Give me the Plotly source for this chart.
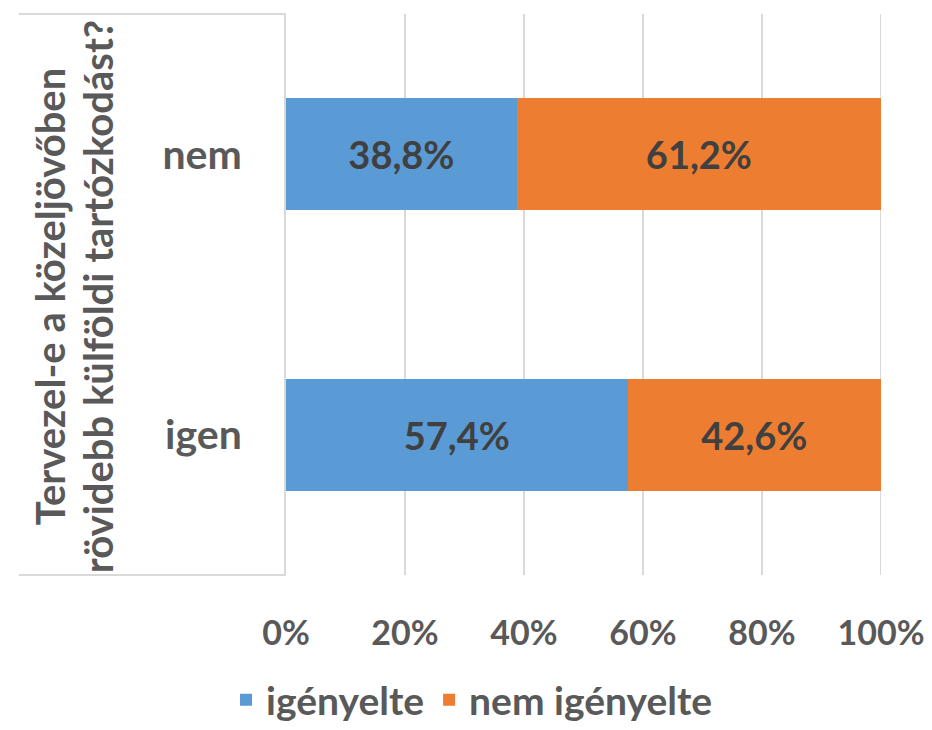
import plotly.graph_objects as go

categories = ["igen", "nem"]
series_names = ["igényelte", "nem igényelte"]
igenyelte = [57.4, 38.8]
nem_igenyelte = [42.6, 61.2]
tick_vals = [0, 20, 40, 60, 80, 100]
tick_text = ["0%", "20%", "40%", "60%", "80%", "100%"]
title_lines = ["Tervezel-e a közeljövőben", "rövidebb külföldi tartózkodást?"]

colors = ["#5B9BD5", "#ED7D31"]
GRID = "#D9D9D9"
FONT = "Lato"
fig = go.Figure()
for name, vals, col in zip(series_names, [igenyelte, nem_igenyelte], colors):
    fig.add_trace(go.Bar(
        y=categories, x=vals, name=name, orientation="h",
        marker=dict(color=col, line=dict(width=0)),
        texttemplate="%{x:.1f}%", textposition="inside",
        insidetextanchor="middle",
        textfont=dict(family=FONT, size=38, color="#404040", weight="bold"),
    ))

# page body has an 8px default margin on every side, so the figure is 16px smaller
W, H = 916, 714
fig.update_layout(
    width=W, height=H,
    barmode="stack", bargap=0.6,
    separators=",.",
    paper_bgcolor="white", plot_bgcolor="white",
    margin=dict(l=278, r=43, t=6, b=147, autoexpand=False),
    font=dict(family=FONT, size=36, color="#595959", weight="bold"),
    xaxis=dict(range=[0, 100], tickvals=tick_vals, ticktext=tick_text,
               showgrid=True, gridcolor=GRID, gridwidth=2,
               zeroline=False, showline=False, ticks="", automargin=False,
               ticklabelstandoff=35, ticklabeloverflow="allow",
               tickfont=dict(family=FONT, size=34, color="#595959", weight="bold")),
    yaxis=dict(showgrid=False, zeroline=False, showline=True, automargin=False,
               linecolor=GRID, linewidth=2, ticks="",
               ticklabelstandoff=34,
               tickfont=dict(family=FONT, size=41, color="#595959", weight="bold")),
    legend=dict(orientation="h", xref="container", x=0.238, xanchor="left",
                yref="container", y=0.031, yanchor="middle",
                font=dict(family=FONT, size=39, color="#595959", weight="bold"),
                traceorder="normal"),
    showlegend=True,
)

# gridline at the right end of the value axis (plotly drops the edge gridline)
fig.add_shape(type="line", xref="x", yref="paper", x0=tick_vals[-1], x1=tick_vals[-1],
              y0=0, y1=1, line=dict(color=GRID, width=2), layer="below")

for line, xpos in zip(title_lines, [-0.3966, -0.316]):
    fig.add_annotation(text=line, xref="paper", yref="paper",
                       x=xpos, y=0.497, textangle=-90, showarrow=False,
                       xanchor="center", yanchor="middle",
                       font=dict(family=FONT, size=40, color="#595959", weight="bold"))

line_style = dict(color=GRID, width=2)
fig.add_shape(type="line", xref="paper", yref="paper", x0=-0.449, x1=0, y0=1, y1=1, line=line_style)
fig.add_shape(type="line", xref="paper", yref="paper", x0=-0.449, x1=0, y0=0, y1=0, line=line_style)

fig.write_html("out.html")
